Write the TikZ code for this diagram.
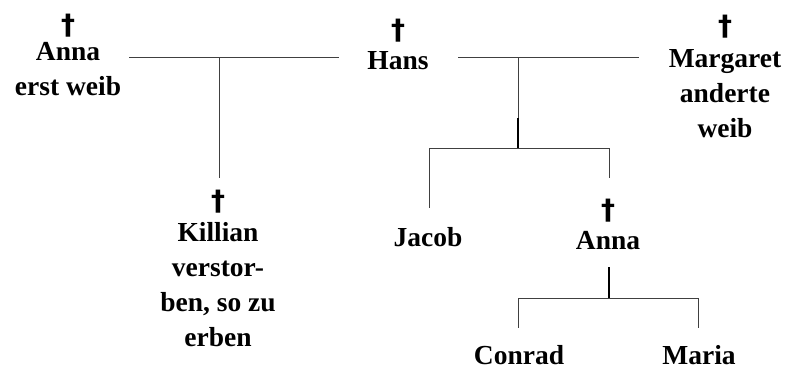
\documentclass[tikz,border=0pt]{standalone}
\usepackage{fontspec}
\setmainfont{Liberation Serif}
\newfontfamily\crossfont{DejaVu Sans}
\usetikzlibrary{positioning}
\tikzstyle{person} = [anchor=north, inner sep=0pt, align=center, font=\bfseries\fontsize{27.5}{35}\selectfont]
\tikzstyle{cross} = [inner sep=0pt, font=\crossfont\bfseries\fontsize{28}{28}\selectfont]
\tikzstyle{line} = [draw=black!75, line width=1pt]
\tikzstyle{stem} = [draw=black, line width=2pt]

\begin{document}
\begin{tikzpicture}[x=1pt,y=-1pt]
\useasboundingbox (0,0) rectangle (789,369);

% first generation
\node[person] (anna) at (68,42) {Anna\\erst weib};
\node[person] (hans) at (398,51) {Hans};
\node[person] (margaret) at (725,49) {Margaret\\anderte\\weib};
\node[cross, above=5pt of anna] (annax) {†};
\node[cross, above=9pt of hans] (hansx) {†};
\node[cross, above=11pt of margaret] (margaretx) {†};

% children
\node[person] (killian) at (218,222) {Killian\\verstor-\\ben, so zu\\erben};
\node[cross, above=9pt of killian] (killianx) {†};
\node[person] (jacob) at (428,227) {Jacob};
\node[person] (anna2) at (608,231) {Anna};
\node[cross, above=9pt of anna2] (anna2x) {†};

% grandchildren
\node[person] (conrad) at (519,345) {Conrad};
\node[person] (maria) at (699,345) {Maria};

% junction points
\coordinate (w1l) at (129,58);
\coordinate (w1r) at (339,58);
\coordinate (w1) at (219,58);
\coordinate (k1) at (219,178);
\coordinate (w2l) at (458,58);
\coordinate (w2r) at (639,58);
\coordinate (w2) at (518,58);
\coordinate (s2) at (518,118);
\coordinate (b2) at (518,148);
\coordinate (b2l) at (429,148);
\coordinate (b2r) at (609,148);
\coordinate (j1) at (429,208);
\coordinate (a1) at (609,178);
\coordinate (s3) at (609,267);
\coordinate (b3) at (609,298);
\coordinate (b3l) at (518,298);
\coordinate (b3r) at (698,298);
\coordinate (c1) at (518,328);
\coordinate (m1) at (698,328);

% first marriage
\draw[line] (w1l) -- (w1r);
\draw[line] (w1) -- (k1);

% second marriage
\draw[line] (w2l) -- (w2r);
\draw[line] (w2) -- (s2);
\draw[stem] (s2) -- (b2);
\draw[line] (b2l) -- (b2r);
\draw[line] (b2l) -- (j1);
\draw[line] (b2r) -- (a1);

% Anna's children
\draw[stem] (s3) -- (b3);
\draw[line] (b3l) -- (b3r);
\draw[line] (b3l) -- (c1);
\draw[line] (b3r) -- (m1);
\end{tikzpicture}
\end{document}
